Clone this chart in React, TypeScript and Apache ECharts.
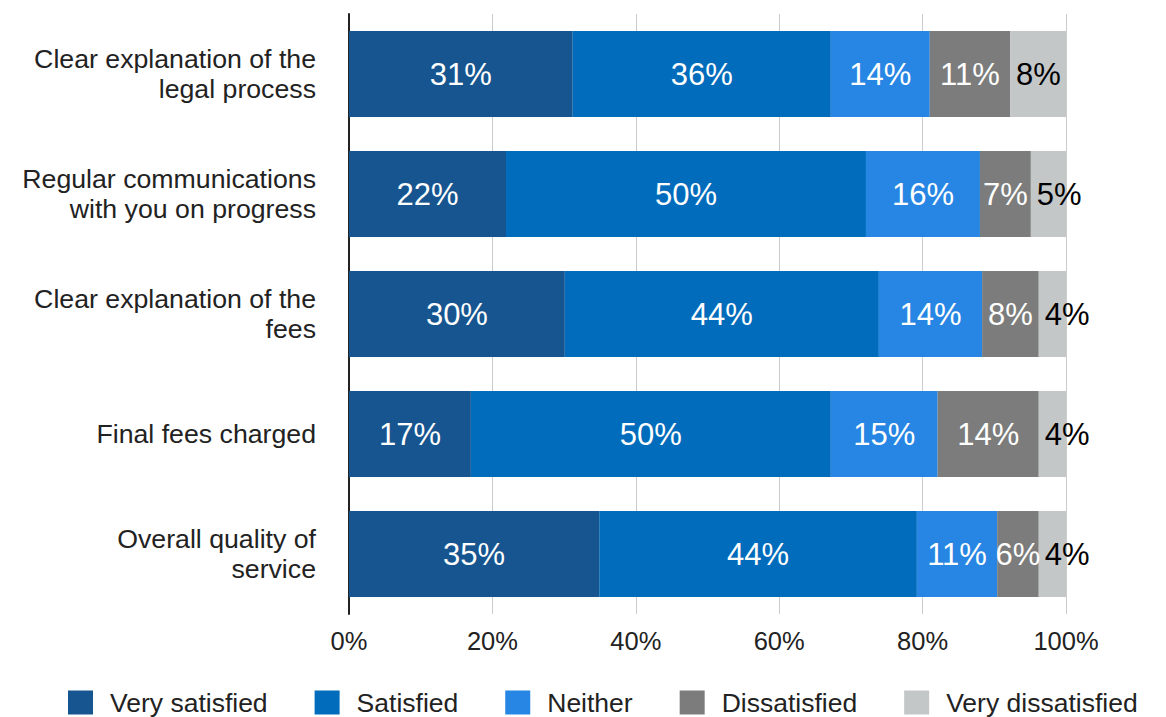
import React, { useEffect, useRef } from "react";
import * as echarts from "echarts";

const categories = [
  "Clear explanation of the\nlegal process",
  "Regular communications\nwith you on progress",
  "Clear explanation of the\nfees",
  "Final fees charged",
  "Overall quality of\nservice",
];

const seriesNames = [
  "Very satisfied",
  "Satisfied",
  "Neither",
  "Dissatisfied",
  "Very dissatisfied",
];

const verySatisfied = [31.2, 21.9, 30.1, 17.0, 34.9];
const satisfied = [36.0, 50.2, 43.8, 50.2, 44.3];
const neither = [13.8, 15.9, 14.4, 14.9, 11.2];
const dissatisfied = [11.2, 7.1, 7.9, 14.1, 5.8];
const veryDissatisfied = [7.8, 4.9, 3.8, 3.8, 3.8];

const xTicks = [0, 20, 40, 60, 80, 100];

const colors = ["#16558f", "#016cbb", "#2786e3", "#7b7c7b", "#c4c7c8"];

const FONT = "'Liberation Sans', Arial, sans-serif";

export default function App() {
  const ref = useRef<HTMLDivElement>(null);

  useEffect(() => {
    if (!ref.current) return;
    const chart = echarts.init(ref.current, undefined, { renderer: "svg" });
    const values = [verySatisfied, satisfied, neither, dissatisfied, veryDissatisfied];
    const series = values.map((vals, i) => ({
      name: seriesNames[i],
      type: "bar",
      stack: "total",
      data: vals,
      barCategoryGap: "28.5%",
      itemStyle: { color: colors[i] },
      label: {
        show: true,
        position: i === 4 ? "insideLeft" : "inside",
        distance: 6,
        color: i === 4 ? "#000000" : "#ffffff",
        fontSize: 31,
        fontFamily: FONT,
        formatter: (p: any) => Math.round(p.value) + "%",
      },
      emphasis: { disabled: true },
    }));

    chart.setOption({
      animation: false,
      textStyle: { fontFamily: FONT },
      grid: { left: 349, right: 100, top: 14, bottom: 103, containLabel: false },
      xAxis: {
        type: "value",
        min: xTicks[0],
        max: xTicks[xTicks.length - 1],
        interval: 20,
        axisLine: { show: false },
        axisTick: { show: false },
        splitLine: { show: true, lineStyle: { color: "#cccccc", width: 1 } },
        axisLabel: {
          fontSize: 25.5,
          color: "#222222",
          margin: 14,
          fontFamily: FONT,
          formatter: (v: number) => v + "%",
        },
      },
      yAxis: {
        type: "category",
        inverse: true,
        data: categories,
        axisLine: { show: true, lineStyle: { color: "#222222", width: 2 } },
        axisTick: { show: false },
        axisLabel: {
          fontSize: 26.7,
          lineHeight: 30,
          color: "#222222",
          margin: 33,
          align: "right",
          fontFamily: FONT,
        },
      },
      legend: {
        data: seriesNames,
        left: 68,
        top: 689,
        padding: 0,
        icon: "rect",
        itemWidth: 25,
        itemHeight: 24,
        itemGap: 47,
        textStyle: {
          fontSize: 26.5,
          lineHeight: 24,
          color: "#222222",
          fontFamily: FONT,
          padding: [0, 0, 0, 12],
        },
      },
      series,
    });
    return () => chart.dispose();
  }, []);

  return (
    <div
      ref={ref}
      style={{ position: "absolute", left: 0, top: 0, width: 1166, height: 717 }}
    />
  );
}
